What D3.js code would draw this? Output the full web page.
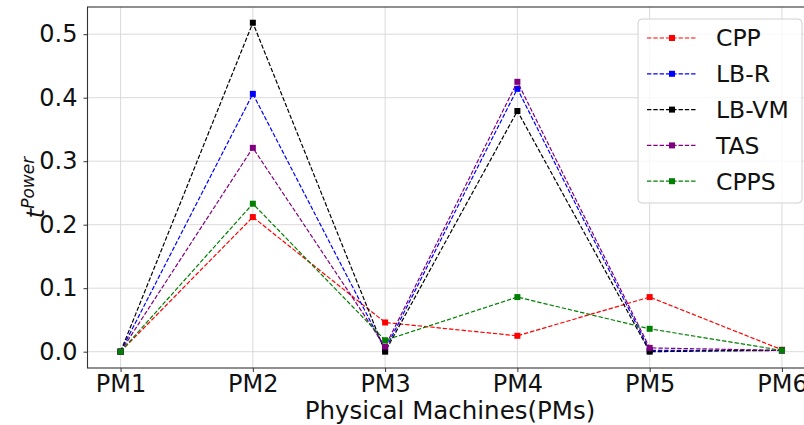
<!DOCTYPE html>
<html>
<head>
<meta charset="utf-8">
<script src="https://cdn.jsdelivr.net/npm/d3@7"></script>
<style>
  body { margin: 0; background: #fff; }
  svg { font-family: "DejaVu Sans", sans-serif; display: block; }
</style>
</head>
<body>
<div id="chart"></div>
<script>
// Data
let machines = ["PM1", "PM2", "PM3", "PM4", "PM5", "PM6"];
let seriesNames = ["CPP", "LB-R", "LB-VM", "TAS", "CPPS"];
let seriesColors = ["#ff0000", "#0000ff", "#000000", "#800080", "#008000"];
let cppValues = [0.0, 0.212, 0.046, 0.025, 0.086, 0.003];
let lbrValues = [0.0, 0.406, 0.003, 0.414, 0.002, 0.002];
let lbvmValues = [0.0, 0.518, 0.0, 0.379, 0.0, 0.002];
let tasValues = [0.0, 0.321, 0.008, 0.425, 0.006, 0.002];
let cppsValues = [0.0, 0.233, 0.018, 0.086, 0.036, 0.002];
let yTicks = [0.0, 0.1, 0.2, 0.3, 0.4, 0.5];

let allSeries = [cppValues, lbrValues, lbvmValues, tasValues, cppsValues];

const chartW = 804, chartH = 425;
const plotLeft = 87.5, plotRight = 815, plotTop = 7, plotBottom = 368;

let svg = d3.select('#chart')
    .append('svg')
    .attr('width', chartW)
    .attr('height', chartH);

svg.append('rect')
    .attr('width', chartW)
    .attr('height', chartH)
    .attr('fill', '#fff');

// Scales (matplotlib-style 5% margins)
let x = d3.scaleLinear()
    .domain([-0.25, machines.length - 0.75])
    .range([plotLeft, plotRight]);
let y = d3.scaleLinear()
    .domain([-0.0257, 0.5428])
    .range([plotBottom, plotTop]);

// Grid
let grid = svg.append('g');
grid.selectAll('.vgrid')
    .data(machines)
    .enter()
    .append('line')
    .attr('x1', (d, i) => x(i))
    .attr('x2', (d, i) => x(i))
    .attr('y1', plotTop)
    .attr('y2', plotBottom)
    .attr('stroke', '#d6d6d6')
    .attr('stroke-width', 0.9);
grid.selectAll('.hgrid')
    .data(yTicks)
    .enter()
    .append('line')
    .attr('x1', plotLeft)
    .attr('x2', plotRight)
    .attr('y1', d => y(d))
    .attr('y2', d => y(d))
    .attr('stroke', '#d6d6d6')
    .attr('stroke-width', 0.9);

// Axes
let xAxis = d3.axisBottom(x)
    .tickValues(d3.range(machines.length))
    .tickFormat(i => machines[i])
    .tickSize(4)
    .tickPadding(3);
let yAxis = d3.axisLeft(y)
    .tickValues(yTicks)
    .tickFormat(d3.format('.1f'))
    .tickSize(4)
    .tickPadding(6);

let gx = svg.append('g')
    .attr('transform', `translate(0,${plotBottom})`)
    .call(xAxis);
let gy = svg.append('g')
    .attr('transform', `translate(${plotLeft},0)`)
    .call(yAxis);

[gx, gy].forEach(g => {
    g.select('.domain').remove();
    g.selectAll('text')
        .attr('font-size', 24)
        .attr('font-family', '"DejaVu Sans", sans-serif')
        .attr('fill', '#111');
    g.selectAll('line').attr('stroke', '#333');
});
gx.selectAll('text').attr('dy', '0.72em');

// Frame (spines)
svg.append('rect')
    .attr('x', plotLeft)
    .attr('y', plotTop)
    .attr('width', plotRight - plotLeft)
    .attr('height', plotBottom - plotTop)
    .attr('fill', 'none')
    .attr('stroke', '#333')
    .attr('stroke-width', 1.1);

// Lines and markers
let line = d3.line()
    .x((d, i) => x(i))
    .y(d => y(d));

allSeries.forEach((values, s) => {
    let g = svg.append('g');
    g.append('path')
        .datum(values)
        .attr('d', line)
        .attr('fill', 'none')
        .attr('stroke', seriesColors[s])
        .attr('stroke-width', 1.2)
        .attr('stroke-dasharray', '4.4,1.9');
    g.selectAll('rect')
        .data(values)
        .enter()
        .append('rect')
        .attr('x', (d, i) => x(i) - 3)
        .attr('y', d => y(d) - 3)
        .attr('width', 6)
        .attr('height', 6)
        .attr('fill', seriesColors[s]);
});

// Axis labels
svg.append('text')
    .attr('x', 450)
    .attr('y', 419)
    .attr('text-anchor', 'middle')
    .attr('font-size', 24.5)
    .attr('fill', '#111')
    .text('Physical Machines(PMs)');

let ylab = svg.append('text')
    .attr('transform', `translate(44,${(plotTop + plotBottom) / 2}) rotate(-90)`)
    .attr('text-anchor', 'middle')
    .attr('font-size', 24)
    .attr('font-style', 'italic')
    .attr('fill', '#111');
ylab.append('tspan').text('t');
ylab.append('tspan')
    .attr('font-size', 17)
    .attr('dy', -10)
    .text('Power');

// Legend
let legend = svg.append('g');
legend.append('rect')
    .attr('x', 638)
    .attr('y', 19)
    .attr('width', 164)
    .attr('height', 184)
    .attr('rx', 4)
    .attr('fill', 'rgba(255,255,255,0.8)')
    .attr('stroke', '#d0d0d0');

let items = legend.selectAll('.item')
    .data(seriesNames)
    .enter()
    .append('g')
    .attr('transform', (d, i) => `translate(0,${38 + i * 35.8})`);
items.append('line')
    .attr('x1', 647)
    .attr('x2', 697)
    .attr('stroke', (d, i) => seriesColors[i])
    .attr('stroke-width', 1.2)
    .attr('stroke-dasharray', '4.4,1.9');
items.append('rect')
    .attr('x', 669)
    .attr('y', -3)
    .attr('width', 6)
    .attr('height', 6)
    .attr('fill', (d, i) => seriesColors[i]);
items.append('text')
    .attr('x', 716)
    .attr('dy', '0.36em')
    .attr('font-size', 23.5)
    .attr('fill', '#111')
    .text(d => d);
</script>
</body>
</html>
